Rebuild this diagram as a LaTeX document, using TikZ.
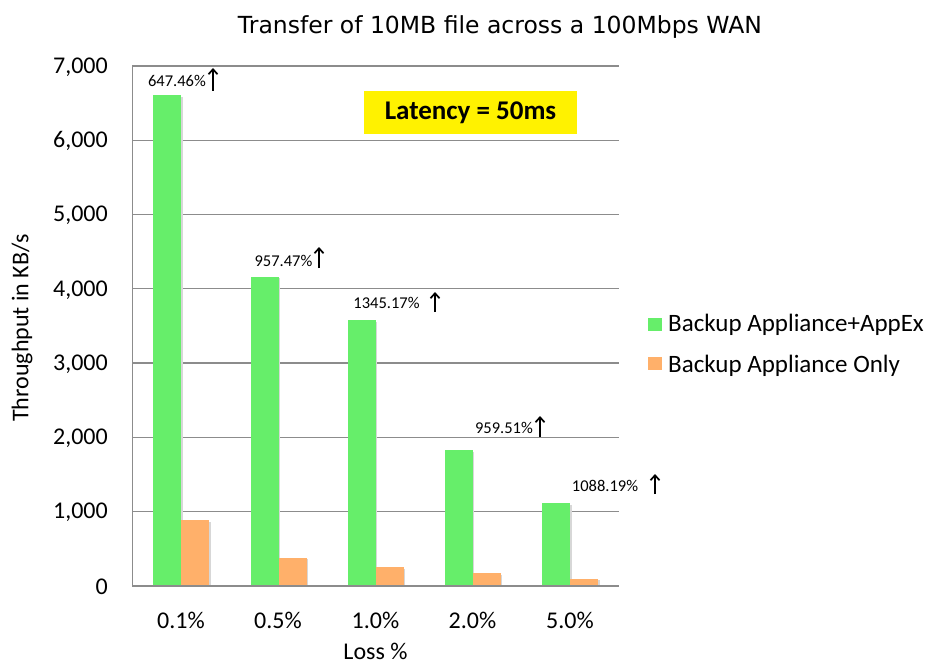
\documentclass[tikz,border=0pt]{standalone}
\usepackage{fontspec}
\setmainfont{Carlito}
\newfontfamily\titlefont{DejaVu Sans}
\usetikzlibrary{arrows.meta}
\definecolor{bargreen}{RGB}{102,238,106}
\definecolor{barorange}{RGB}{255,176,106}
\definecolor{gridgray}{RGB}{140,140,140}
\definecolor{shadowgray}{RGB}{215,215,215}
\begin{document}
\begin{tikzpicture}[x=1pt,y=-1pt,
  gridline/.style={draw=gridgray,line width=1.3pt},
  greenbar/.style={fill=bargreen,draw=none},
  orangebar/.style={fill=barorange,draw=none},
  barshadow/.style={fill=shadowgray,draw=none},
  ticklabel/.style={font=\fontsize{24}{28}\selectfont,anchor=east,inner sep=0pt},
  catlabel/.style={font=\fontsize{24}{28}\selectfont,inner sep=0pt},
  datalabel/.style={font=\fontsize{16.5}{20}\selectfont,inner sep=0pt},
  uparrow/.style={line width=1.7pt,-{Straight Barb[length=5pt,width=9pt,line width=1.7pt]}},
  legtext/.style={font=\fontsize{25}{29}\selectfont,anchor=west,inner sep=0pt},
]
\useasboundingbox (0,0) rectangle (931,666);
\fill[white] (0,0) rectangle (931,666);

\def\yz{586}
\def\ys{0.0743}

% gridlines
\foreach \k in {1,...,7}{
  \draw[gridline] (132.3,{\yz-\k*1000*\ys}) -- (619,{\yz-\k*1000*\ys});
}
\draw[gridline] (132.3,66) -- (132.3,\yz);

% bars
\foreach \i/\g/\o in {0/6608/888,1/4163/381,2/3580/252,3/1830/175,4/1117/98}{
  \pgfmathsetmacro{\xl}{153.3+97.2*\i}
  \fill[barshadow] (\xl+1.5,{\yz-\g*\ys+1.5}) rectangle (\xl+29.5,\yz);
  \fill[barshadow] (\xl+29.5,{\yz-\o*\ys+1.5}) rectangle (\xl+57.5,\yz);
  \fill[greenbar] (\xl,{\yz-\g*\ys}) rectangle (\xl+28,\yz);
  \fill[orangebar] (\xl+28,{\yz-\o*\ys}) rectangle (\xl+56,\yz);
}
\draw[gridline] (132.3,\yz) -- (619,\yz);

% y tick labels
\foreach \k/\t in {0/0,1/{1,000},2/{2,000},3/{3,000},4/{4,000},5/{5,000},6/{6,000},7/{7,000}}{
  \node[ticklabel] (yt\k) at (108,{\yz-\k*1000*\ys+1}) {\t};
}

% category labels
\node[catlabel] (c1) at (181,620) {0.1\%};
\node[catlabel] (c2) at (278,620) {0.5\%};
\node[catlabel] (c3) at (375.5,620) {1.0\%};
\node[catlabel] (c4) at (472.5,620) {2.0\%};
\node[catlabel] (c5) at (570,620) {5.0\%};

% axis titles
\node[catlabel] (xtitle) at (375.5,651) {Loss \%};
\node[catlabel,rotate=90] (ytitle) at (22,328) {Throughput in KB/s};

% title
\node[inner sep=0pt,font=\titlefont\fontsize{23.5}{28}\selectfont] (title) at (500,27) {Transfer of 10MB file across a 100Mbps WAN};

% latency box
\node[fill=yellow,minimum width=213pt,minimum height=43pt,inner sep=0pt,
  font=\bfseries\fontsize{27}{31}\selectfont] (lat) at (470.5,112.5) {Latency = 50ms};

% data labels and arrows
\node[datalabel] (d1) at (177,81) {647.46\%};
\coordinate (a1s) at (213,91); \coordinate (a1e) at (213,68);
\draw[uparrow] (a1s) -- (a1e);
\node[datalabel] (d2) at (283.5,261) {957.47\%};
\coordinate (a2s) at (319,268); \coordinate (a2e) at (319,247);
\draw[uparrow] (a2s) -- (a2e);
\node[datalabel] (d3) at (386.5,303) {1345.17\%};
\coordinate (a3s) at (435,312); \coordinate (a3e) at (435,292);
\draw[uparrow] (a3s) -- (a3e);
\node[datalabel] (d4) at (504,428) {959.51\%};
\coordinate (a4s) at (540,437); \coordinate (a4e) at (540,416);
\draw[uparrow] (a4s) -- (a4e);
\node[datalabel] (d5) at (605,486) {1088.19\%};
\coordinate (a5s) at (655,494); \coordinate (a5e) at (655,474);
\draw[uparrow] (a5s) -- (a5e);

% legend
\fill[bargreen] (648,317.5) rectangle (662,330.5);
\node[legtext] (l1) at (668,325) {Backup Appliance+AppEx};
\fill[barorange] (648,357) rectangle (662,370);
\node[legtext] (l2) at (668,366) {Backup Appliance Only};
\end{tikzpicture}
\end{document}
